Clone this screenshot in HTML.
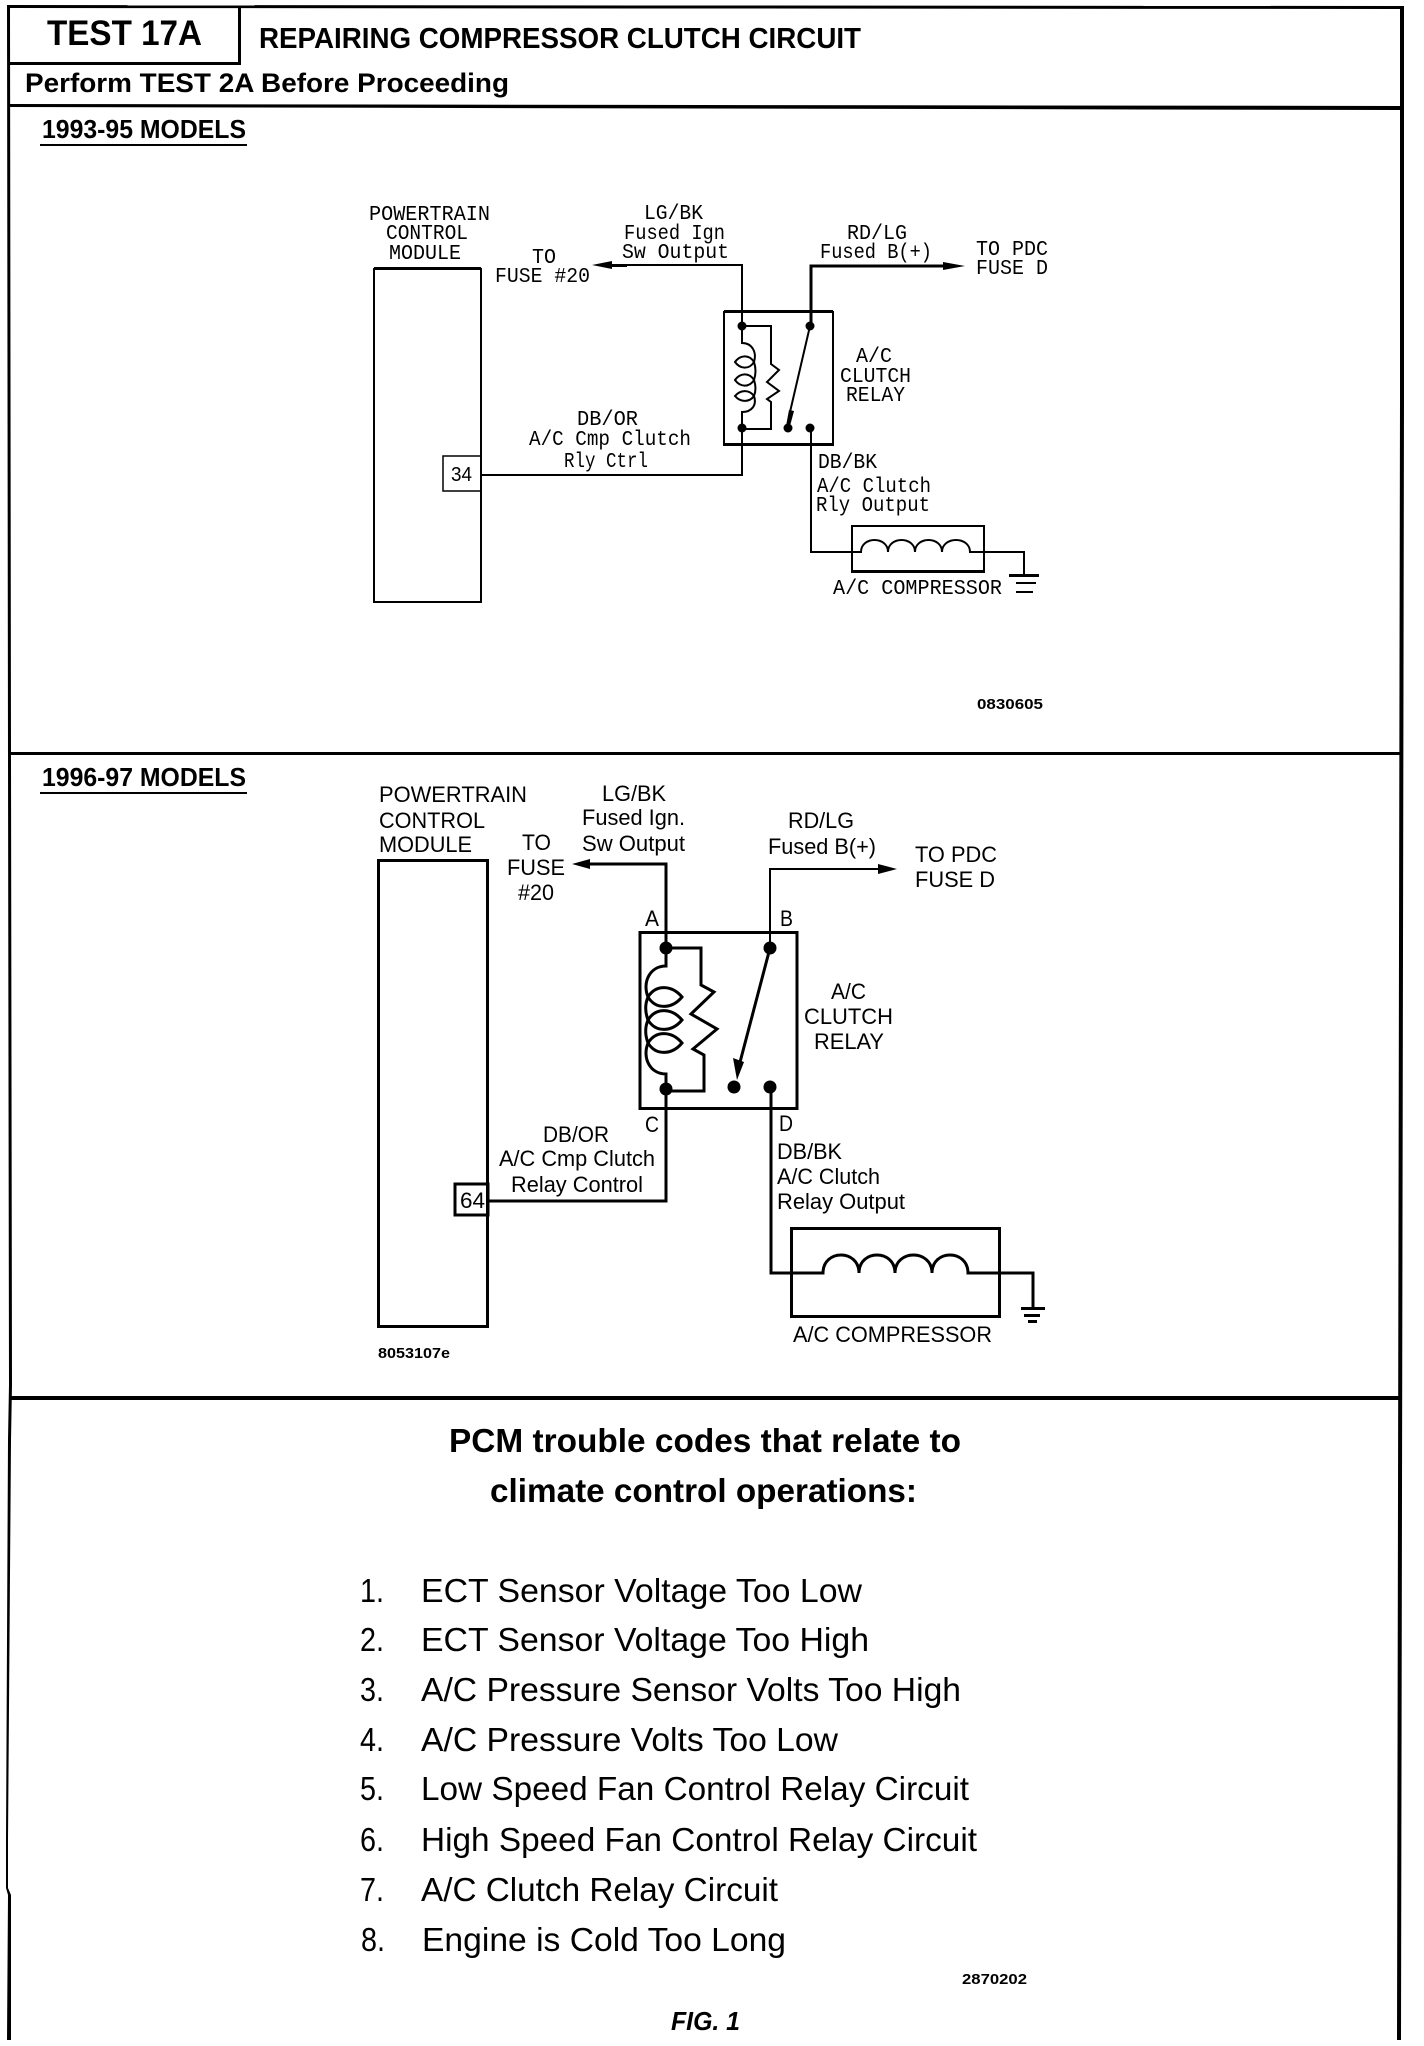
<!DOCTYPE html>
<html><head><meta charset="utf-8"><style>
html,body{margin:0;padding:0;background:#fff}
svg{display:block}
text{fill:#000}
.m{font-family:"Liberation Mono",monospace;font-size:21px}
.s{font-family:"Liberation Sans",sans-serif;font-size:22px}
.r{font-family:"Liberation Sans",sans-serif;font-size:33px}
.b{font-family:"Liberation Sans",sans-serif;font-weight:bold}
.w{fill:none;stroke:#000;stroke-width:2}
.w3{fill:none;stroke:#000;stroke-width:3}
</style></head><body>
<svg width="1424" height="2046" viewBox="0 0 1424 2046" xmlns="http://www.w3.org/2000/svg">
<rect width="1424" height="2046" fill="#fff"/>
<!-- frame -->
<polygon points="7,5 1404,6 1404,9 10,8" fill="#000"/>
<polygon points="1400,6 1404,6 1404,400 1401,2040 1397,2040 1400,400" fill="#000"/>
<polygon points="7,5 10,5 11,760 12,1385 11,1440 8,1840 8,1888 11,1895 11,2040 7,2040 8,1895 6,1888 6,1840 8,1440 9,1385 8,760" fill="#000"/>
<rect x="238" y="6" width="3" height="58" fill="#000"/>
<rect x="9" y="62" width="232" height="3" fill="#000"/>
<polygon points="9,104 1402,106 1402,110 9,107" fill="#000"/>
<rect x="9" y="752" width="1391" height="3" fill="#000"/>
<rect x="10" y="1396" width="1390" height="4" fill="#000"/>
<!-- header -->
<text class="b" x="47" y="45" font-size="35" textLength="155" lengthAdjust="spacingAndGlyphs">TEST 17A</text>
<text class="b" x="259" y="48" font-size="29" textLength="602" lengthAdjust="spacingAndGlyphs">REPAIRING COMPRESSOR CLUTCH CIRCUIT</text>
<text class="b" x="25" y="92" font-size="27" textLength="484" lengthAdjust="spacingAndGlyphs">Perform TEST 2A Before Proceeding</text>
<text class="b" x="42" y="138" font-size="26" textLength="204" lengthAdjust="spacingAndGlyphs">1993-95 MODELS</text>
<rect x="40" y="144" width="207" height="2" fill="#000"/>
<text class="b" x="42" y="786" font-size="26" textLength="204" lengthAdjust="spacingAndGlyphs">1996-97 MODELS</text>
<rect x="40" y="792" width="207" height="2" fill="#000"/>

<!-- SECTION 1 -->
<rect x="374" y="269" width="107" height="333" class="w"/>
<rect x="374" y="267" width="107" height="3" fill="#000"/>
<rect x="443" y="456" width="38" height="35" fill="none" stroke="#000" stroke-width="1.5"/>
<text x="451" y="481" font-family="Liberation Sans,sans-serif" font-size="20" textLength="21" lengthAdjust="spacingAndGlyphs">34</text>
<path d="M481 475 H742 V428 M742 326 V265 H605" class="w"/>
<polygon points="592,265 612,261 612,269" fill="#000"/>
<rect x="605" y="264" width="22" height="3" fill="#000"/>
<path d="M811 326 V266 H945" class="w3"/>
<polygon points="965,266 943,262 943,270" fill="#000"/>
<rect x="724" y="312" width="109" height="133" class="w"/>
<rect x="724" y="310" width="109" height="3" fill="#000"/>
<rect x="724" y="443" width="109" height="3" fill="#000"/>
<path d="M742 326 V343 C752 343 757 352 754 362 C756 368 756 374 754 380 C756 386 756 391 754 396 C757 405 752 412 742 412 V428" class="w"/>
<path d="M754 362 C749 354 740 355 735 362 C740 369 749 370 754 362 M754 380 C749 372 740 373 735 380 C740 387 749 388 754 380 M754 396 C749 389 740 390 735 396 C740 402 749 403 754 396" class="w"/>
<path d="M742 326 H771 V364 L779 370 L767 382 L779 391 L767 399 L771 402 V429 H742" class="w"/>
<circle cx="742" cy="326" r="4.5"/><circle cx="810" cy="326" r="4.5"/>
<circle cx="742" cy="428" r="4.5"/><circle cx="788" cy="428" r="4.5"/><circle cx="810" cy="428" r="4.5"/>
<path d="M810 326 L790 412" class="w"/>
<polygon points="789,410 794,411 790,426 786,426" fill="#000"/>
<path d="M811 428 V552 H861 C861 536 888 536 888 552 C888 536 915 536 915 552 C915 536 942 536 942 552 C942 536 970 536 970 552 H1024 V575" class="w"/>
<rect x="852" y="526" width="132" height="46" class="w"/>
<rect x="852" y="570" width="132" height="3" fill="#000"/>
<rect x="1009" y="574" width="30" height="3" fill="#000"/>
<rect x="1016" y="582" width="20" height="2" fill="#000"/>
<rect x="1016" y="591" width="17" height="2" fill="#000"/>
<g class="m">
<text x="369" y="220" textLength="121" lengthAdjust="spacingAndGlyphs">POWERTRAIN</text>
<text x="386" y="239" textLength="82" lengthAdjust="spacingAndGlyphs">CONTROL</text>
<text x="389" y="259" textLength="72" lengthAdjust="spacingAndGlyphs">MODULE</text>
<text x="532" y="263" textLength="24" lengthAdjust="spacingAndGlyphs">TO</text>
<text x="495" y="282" textLength="95" lengthAdjust="spacingAndGlyphs">FUSE #20</text>
<text x="644" y="219" textLength="59" lengthAdjust="spacingAndGlyphs">LG/BK</text>
<text x="624" y="239" textLength="101" lengthAdjust="spacingAndGlyphs">Fused Ign</text>
<text x="622" y="258" textLength="107" lengthAdjust="spacingAndGlyphs">Sw Output</text>
<text x="847" y="239" textLength="60" lengthAdjust="spacingAndGlyphs">RD/LG</text>
<text x="820" y="258" textLength="112" lengthAdjust="spacingAndGlyphs">Fused B(+)</text>
<text x="976" y="255" textLength="72" lengthAdjust="spacingAndGlyphs">TO PDC</text>
<text x="976" y="274" textLength="72" lengthAdjust="spacingAndGlyphs">FUSE D</text>
<text x="856" y="362" textLength="36" lengthAdjust="spacingAndGlyphs">A/C</text>
<text x="840" y="382" textLength="71" lengthAdjust="spacingAndGlyphs">CLUTCH</text>
<text x="846" y="401" textLength="59" lengthAdjust="spacingAndGlyphs">RELAY</text>
<text x="577" y="425" textLength="61" lengthAdjust="spacingAndGlyphs">DB/OR</text>
<text x="529" y="445" textLength="162" lengthAdjust="spacingAndGlyphs">A/C Cmp Clutch</text>
<text x="564" y="467" textLength="84" lengthAdjust="spacingAndGlyphs">Rly Ctrl</text>
<text x="818" y="468" textLength="59" lengthAdjust="spacingAndGlyphs">DB/BK</text>
<text x="817" y="492" textLength="114" lengthAdjust="spacingAndGlyphs">A/C Clutch</text>
<text x="816" y="511" textLength="114" lengthAdjust="spacingAndGlyphs">Rly Output</text>
<text x="833" y="594" textLength="169" lengthAdjust="spacingAndGlyphs">A/C COMPRESSOR</text>
</g>
<text class="b" x="977" y="709" font-size="15" textLength="66" lengthAdjust="spacingAndGlyphs">0830605</text>

<!-- SECTION 2 -->
<rect x="378.5" y="860.5" width="109" height="466" class="w3"/>
<rect x="455" y="1184" width="33" height="31" class="w3"/>
<text x="460" y="1208" font-family="Liberation Sans,sans-serif" font-size="22" textLength="25" lengthAdjust="spacingAndGlyphs">64</text>
<path d="M488 1201 H666 V1089 M666 948 V864 H588" class="w3"/>
<polygon points="572,864 590,859 590,869" fill="#000"/>
<path d="M770 948 V869 H880" class="w"/>
<polygon points="897,869 878,864 878,874" fill="#000"/>
<rect x="640" y="932.5" width="157" height="176" class="w3"/>
<path d="M666 948 V966 C650 966 642 982 648 997 C645 1004 645 1012 648 1020 C645 1027 645 1035 648 1043 C642 1058 650 1074 666 1074 V1089" class="w3"/>
<path d="M648 997 C656 984 672 985 682 997 C672 1009 656 1010 648 997 M648 1020 C656 1007 672 1008 682 1020 C672 1032 656 1033 648 1020 M648 1043 C656 1030 672 1031 682 1043 C672 1055 656 1056 648 1043" class="w3"/>
<path d="M666 948 H701 V985 L714 992 L691 1014 L717 1029 L693 1049 L704 1055 V1091 H666" class="w3"/>
<circle cx="666" cy="948" r="6.5"/><circle cx="770" cy="948" r="6.5"/>
<circle cx="666" cy="1089" r="6.5"/><circle cx="734" cy="1087" r="6.5"/><circle cx="770" cy="1087" r="6.5"/>
<path d="M770 948 L739 1066" class="w3"/>
<polygon points="737,1080 733,1058 744,1062" fill="#000"/>
<path d="M771 1087 V1273 H823 C823 1249 859 1249 859 1273 C859 1249 895 1249 895 1273 C895 1249 932 1249 932 1273 C932 1249 968 1249 968 1273 H1033 V1308" class="w3"/>
<rect x="791.5" y="1228.5" width="208" height="88" class="w3"/>
<rect x="1021" y="1307" width="24" height="3" fill="#000"/>
<rect x="1024" y="1314" width="16" height="3" fill="#000"/>
<rect x="1028" y="1320" width="9" height="3" fill="#000"/>
<g class="s">
<text x="379" y="802" textLength="148" lengthAdjust="spacingAndGlyphs">POWERTRAIN</text>
<text x="379" y="828" textLength="106" lengthAdjust="spacingAndGlyphs">CONTROL</text>
<text x="379" y="852" textLength="93" lengthAdjust="spacingAndGlyphs">MODULE</text>
<text x="522" y="850" textLength="29" lengthAdjust="spacingAndGlyphs">TO</text>
<text x="507" y="875" textLength="58" lengthAdjust="spacingAndGlyphs">FUSE</text>
<text x="518" y="900" textLength="36" lengthAdjust="spacingAndGlyphs">#20</text>
<text x="602" y="801" textLength="64" lengthAdjust="spacingAndGlyphs">LG/BK</text>
<text x="582" y="825" textLength="103" lengthAdjust="spacingAndGlyphs">Fused Ign.</text>
<text x="582" y="851" textLength="103" lengthAdjust="spacingAndGlyphs">Sw Output</text>
<text x="788" y="828" textLength="66" lengthAdjust="spacingAndGlyphs">RD/LG</text>
<text x="768" y="854" textLength="108" lengthAdjust="spacingAndGlyphs">Fused B(+)</text>
<text x="915" y="862" textLength="82" lengthAdjust="spacingAndGlyphs">TO PDC</text>
<text x="915" y="887" textLength="80" lengthAdjust="spacingAndGlyphs">FUSE D</text>
<text x="645" y="926" textLength="14" lengthAdjust="spacingAndGlyphs">A</text>
<text x="780" y="926" textLength="13" lengthAdjust="spacingAndGlyphs">B</text>
<text x="645" y="1132" textLength="14" lengthAdjust="spacingAndGlyphs">C</text>
<text x="779" y="1131" textLength="14" lengthAdjust="spacingAndGlyphs">D</text>
<text x="831" y="999" textLength="35" lengthAdjust="spacingAndGlyphs">A/C</text>
<text x="804" y="1024" textLength="89" lengthAdjust="spacingAndGlyphs">CLUTCH</text>
<text x="814" y="1049" textLength="70" lengthAdjust="spacingAndGlyphs">RELAY</text>
<text x="543" y="1142" textLength="66" lengthAdjust="spacingAndGlyphs">DB/OR</text>
<text x="499" y="1166" textLength="156" lengthAdjust="spacingAndGlyphs">A/C Cmp Clutch</text>
<text x="511" y="1192" textLength="132" lengthAdjust="spacingAndGlyphs">Relay Control</text>
<text x="777" y="1159" textLength="65" lengthAdjust="spacingAndGlyphs">DB/BK</text>
<text x="777" y="1184" textLength="103" lengthAdjust="spacingAndGlyphs">A/C Clutch</text>
<text x="777" y="1209" textLength="128" lengthAdjust="spacingAndGlyphs">Relay Output</text>
<text x="793" y="1342" textLength="199" lengthAdjust="spacingAndGlyphs">A/C COMPRESSOR</text>
</g>
<text class="b" x="378" y="1358" font-size="15" textLength="72" lengthAdjust="spacingAndGlyphs">8053107e</text>

<!-- SECTION 3 -->
<text class="b" x="449" y="1452" font-size="33" textLength="512" lengthAdjust="spacingAndGlyphs">PCM trouble codes that relate to</text>
<text class="b" x="490" y="1502" font-size="33" textLength="427" lengthAdjust="spacingAndGlyphs">climate control operations:</text>
<g class="r">
<text x="360" y="1602" textLength="24" lengthAdjust="spacingAndGlyphs">1.</text><text x="421" y="1602" textLength="441" lengthAdjust="spacingAndGlyphs">ECT Sensor Voltage Too Low</text>
<text x="360" y="1651" textLength="24" lengthAdjust="spacingAndGlyphs">2.</text><text x="421" y="1651" textLength="448" lengthAdjust="spacingAndGlyphs">ECT Sensor Voltage Too High</text>
<text x="360" y="1701" textLength="24" lengthAdjust="spacingAndGlyphs">3.</text><text x="421" y="1701" textLength="540" lengthAdjust="spacingAndGlyphs">A/C Pressure Sensor Volts Too High</text>
<text x="360" y="1751" textLength="24" lengthAdjust="spacingAndGlyphs">4.</text><text x="421" y="1751" textLength="417" lengthAdjust="spacingAndGlyphs">A/C Pressure Volts Too Low</text>
<text x="360" y="1800" textLength="24" lengthAdjust="spacingAndGlyphs">5.</text><text x="421" y="1800" textLength="548" lengthAdjust="spacingAndGlyphs">Low Speed Fan Control Relay Circuit</text>
<text x="360" y="1851" textLength="24" lengthAdjust="spacingAndGlyphs">6.</text><text x="421" y="1851" textLength="556" lengthAdjust="spacingAndGlyphs">High Speed Fan Control Relay Circuit</text>
<text x="360" y="1901" textLength="24" lengthAdjust="spacingAndGlyphs">7.</text><text x="421" y="1901" textLength="357" lengthAdjust="spacingAndGlyphs">A/C Clutch Relay Circuit</text>
<text x="361" y="1951" textLength="24" lengthAdjust="spacingAndGlyphs">8.</text><text x="422" y="1951" textLength="364" lengthAdjust="spacingAndGlyphs">Engine is Cold Too Long</text>
</g>
<text class="b" x="962" y="1984" font-size="15" textLength="65" lengthAdjust="spacingAndGlyphs">2870202</text>
<text class="b" x="671" y="2030" font-size="26" font-style="italic" textLength="69" lengthAdjust="spacingAndGlyphs">FIG. 1</text>
</svg>
</body></html>
